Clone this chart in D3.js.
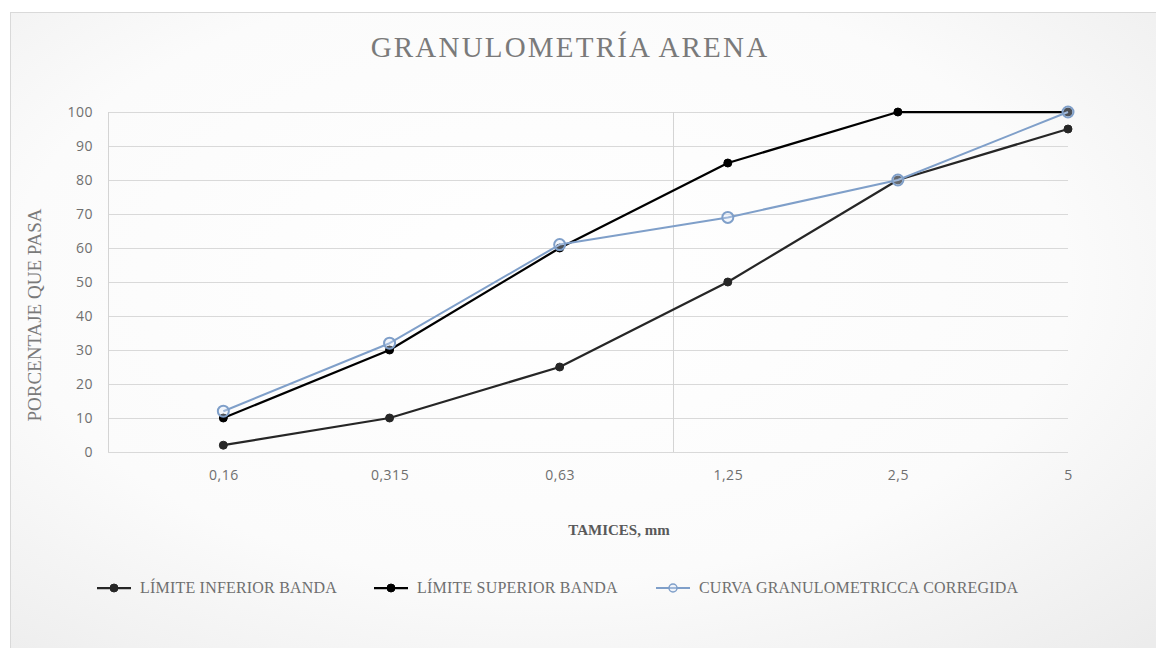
<!DOCTYPE html>
<html>
<head>
<meta charset="utf-8">
<script src="https://cdn.jsdelivr.net/npm/d3@7"></script>
<style>
  body { margin: 0; background: #ffffff; }
  svg { display: block; }
</style>
</head>
<body>
<svg id="chart"></svg>
<script>
// data
var tamices = [0.16, 0.315, 0.63, 1.25, 2.5, 5];
var tamizLabels = ["0,16", "0,315", "0,63", "1,25", "2,5", "5"];
var limiteInferior = [2, 10, 25, 50, 80, 95];
var limiteSuperior = [10, 30, 60, 85, 100, 100];
var curvaCorregida = [12, 32, 61, 69, 80, 100];
var yTicks = [0, 10, 20, 30, 40, 50, 60, 70, 80, 90, 100];
var seriesNames = ["LÍMITE INFERIOR BANDA", "LÍMITE SUPERIOR BANDA", "CURVA GRANULOMETRICCA CORREGIDA"];

var W = 1156, H = 648;
var margin = {top: 112, right: 88, bottom: 196, left: 108},
    width = W - margin.left - margin.right,
    height = H - margin.top - margin.bottom;

var svg = d3.select("#chart")
  .attr("width", W)
  .attr("height", H);

// background with soft gradient like the office chart area
var defs = svg.append("defs");
var grad = defs.append("radialGradient")
  .attr("id", "bg")
  .attr("cx", "45%").attr("cy", "40%").attr("r", "75%");
grad.append("stop").attr("offset", "0%").attr("stop-color", "#ffffff");
grad.append("stop").attr("offset", "60%").attr("stop-color", "#fbfbfb");
grad.append("stop").attr("offset", "100%").attr("stop-color", "#ececec");

svg.append("rect")
  .attr("x", 10.5).attr("y", 12.5)
  .attr("width", W + 20).attr("height", H + 20)
  .attr("fill", "url(#bg)")
  .attr("stroke", "#d9d9d9")
  .attr("stroke-width", 1);

var g = svg.append("g")
  .attr("transform", "translate(" + margin.left + "," + margin.top + ")");

// log x scale, 0.1 .. 5
var x = d3.scaleLog()
  .domain([0.1, 5])
  .range([0, width]);

var y = d3.scaleLinear()
  .domain([0, 100])
  .range([height, 0]);

// horizontal gridlines
g.append("g")
  .selectAll("line")
  .data(yTicks)
  .enter()
  .append("line")
  .attr("x1", 0)
  .attr("x2", width)
  .attr("y1", function(d) { return Math.round(y(d)) + 0.5; })
  .attr("y2", function(d) { return Math.round(y(d)) + 0.5; })
  .attr("stroke", "#d9d9d9")
  .attr("stroke-width", 1);

// vertical gridlines at powers of ten
g.append("g")
  .selectAll("line")
  .data([0.1, 1])
  .enter()
  .append("line")
  .attr("x1", function(d) { return Math.round(x(d)) + 0.5; })
  .attr("x2", function(d) { return Math.round(x(d)) + 0.5; })
  .attr("y1", 0)
  .attr("y2", height)
  .attr("stroke", "#d4d4d4")
  .attr("stroke-width", 1);

// Y axis labels
var yAxis = g.append("g")
  .attr("transform", "translate(-15,0)")
  .call(d3.axisLeft(y).tickValues(yTicks).tickSize(0).tickPadding(0));
yAxis.select(".domain").remove();
yAxis.selectAll("text")
  .attr("font-family", "'Open Sans', sans-serif")
  .attr("font-size", "14px")
  .attr("letter-spacing", "0.5px")
  .attr("fill", "#6f6f6f");

// X axis labels at each sieve
var xAxis = g.append("g")
  .attr("transform", "translate(0," + height + ")")
  .call(d3.axisBottom(x)
    .tickValues(tamices)
    .tickFormat(function(d, i) { return tamizLabels[i]; })
    .tickSize(0)
    .tickPadding(18));
xAxis.select(".domain").remove();
xAxis.selectAll("text")
  .attr("font-family", "'Open Sans', sans-serif")
  .attr("font-size", "14px")
  .attr("letter-spacing", "0.5px")
  .attr("fill", "#6f6f6f");

var series = [
  {name: seriesNames[0], values: limiteInferior, color: "#262626", kind: "dot"},
  {name: seriesNames[1], values: limiteSuperior, color: "#000000", kind: "dot"},
  {name: seriesNames[2], values: curvaCorregida, color: "#7f9fc9", kind: "ring"}
];

var line = d3.line()
  .x(function(d) { return x(d.t); })
  .y(function(d) { return y(d.v); });

series.forEach(function(s, k) {
  var pts = tamices.map(function(t, i) { return {t: t, v: s.values[i]}; });
  g.append("path")
    .datum(pts)
    .attr("fill", "none")
    .attr("stroke", s.color)
    .attr("stroke-width", s.kind == "ring" ? 2 : 2.25)
    .attr("stroke-linejoin", "round")
    .attr("d", line);

  g.selectAll(".m" + k)
    .data(pts)
    .enter()
    .append("circle")
    .attr("class", "m" + k)
    .attr("cx", function(d) { return x(d.t); })
    .attr("cy", function(d) { return y(d.v); })
    .attr("r", s.kind == "ring" ? 5.5 : 4)
    .attr("fill", s.kind == "ring" ? "rgba(220,232,248,0.35)" : s.color)
    .attr("stroke", s.color)
    .attr("stroke-width", s.kind == "ring" ? 2 : 1);
});

// title
svg.append("text")
  .attr("x", 570)
  .attr("y", 57)
  .attr("text-anchor", "middle")
  .attr("font-family", "'Liberation Serif', serif")
  .attr("font-size", "29px")
  .attr("letter-spacing", "2.2px")
  .attr("fill", "#7a7a7a")
  .text("GRANULOMETRÍA ARENA");

// axis titles
svg.append("text")
  .attr("transform", "translate(41,315) rotate(-90)")
  .attr("text-anchor", "middle")
  .attr("font-family", "'Liberation Serif', serif")
  .attr("font-size", "19px")
  .attr("fill", "#7a7a7a")
  .text("PORCENTAJE QUE PASA");

svg.append("text")
  .attr("x", 619)
  .attr("y", 535)
  .attr("text-anchor", "middle")
  .attr("font-family", "'Liberation Serif', serif")
  .attr("font-size", "15px")
  .attr("font-weight", "bold")
  .attr("fill", "#595959")
  .text("TAMICES, mm");

// legend
var legendX = [97, 374, 656];
var legend = svg.append("g");
series.forEach(function(s, i) {
  var lg = legend.append("g")
    .attr("transform", "translate(" + legendX[i] + ",588)");
  lg.append("line")
    .attr("x1", 0).attr("x2", 34)
    .attr("y1", 0).attr("y2", 0)
    .attr("stroke", s.color)
    .attr("stroke-width", s.kind == "ring" ? 2 : 2.25);
  lg.append("circle")
    .attr("cx", 17).attr("cy", 0)
    .attr("r", 4)
    .attr("fill", s.kind == "ring" ? "rgba(220,232,248,0.35)" : s.color)
    .attr("stroke", s.color)
    .attr("stroke-width", s.kind == "ring" ? 1.5 : 1);
  lg.append("text")
    .attr("x", 43)
    .attr("y", 5)
    .attr("font-family", "'Liberation Serif', serif")
    .attr("font-size", "16px")
    .attr("letter-spacing", "0.2px")
    .attr("fill", "#6f6f6f")
    .text(s.name);
});
</script>
</body>
</html>
